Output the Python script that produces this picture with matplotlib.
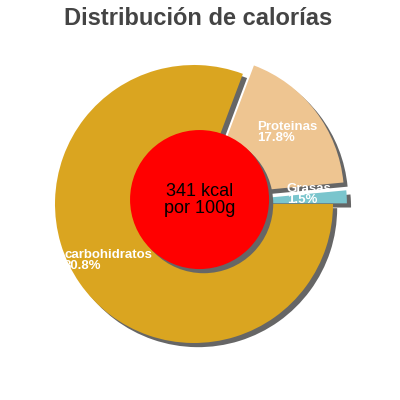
import matplotlib
matplotlib.use("Agg")
import matplotlib.pyplot as plt

# -----------------------------
# Datos
# -----------------------------
nombres = ["Grasas", "Proteinas", "carbohidratos"]
porcentajes = [1.5, 17.8, 80.8]
colores = ["#7AC5CD", "#EEC591", "#DAA520"]
separacion = [0.1, 0.1, 0.0]
texto_centro = "341 kcal\npor 100g"
titulo = "Distribución de calorías"

# posiciones de las etiquetas (en unidades del radio)
pos_etiquetas = [(0.669, 0.151), (0.453, 0.597), (-0.935, -0.324)]

plt.rcParams["font.family"] = ["Liberation Sans", "DejaVu Sans"]

fig = plt.figure(figsize=(4, 4), dpi=100)
ax = fig.add_axes([0, 0, 1, 1])
ax.set_xlim(-194 / 139, 206 / 139)
ax.set_ylim(-196 / 139, 204 / 139)
ax.set_aspect("equal")
ax.axis("off")

sombra = "#666666"
dx, dy = 0.03, -0.03

# sombra del gráfico
ax.pie(porcentajes, colors=[sombra] * len(porcentajes), explode=separacion,
       startangle=0, counterclock=True, center=(dx, dy), radius=1,
       wedgeprops={"linewidth": 0}, frame=True)
# gráfico principal
ax.pie(porcentajes, colors=colores, explode=separacion,
       startangle=0, counterclock=True, center=(0, 0), radius=1,
       wedgeprops={"linewidth": 0}, frame=True)

ax.set_xlim(-194 / 139, 206 / 139)
ax.set_ylim(-196 / 139, 204 / 139)
ax.axis("off")

# etiquetas
for nombre, pct, (x, y) in zip(nombres, porcentajes, pos_etiquetas):
    ax.text(x, y, f"{nombre}\n{pct}%", color="white", fontsize=9.5,
            fontweight="bold", ha="left", va="top", linespacing=0.9)

# círculo central
cx, cy, rc = 0.04, 0.032, 0.5
ax.add_patch(plt.Circle((cx + dx, cy + dy), rc, color=sombra, lw=0))
ax.add_patch(plt.Circle((cx, cy), rc, color="#FF0000", lw=0))
ax.text(cx, cy, texto_centro, ha="center", va="center", fontsize=13,
        color="black", linespacing=1.0)

fig.text(0.495, 1 - 25 / 400, titulo, ha="center", va="baseline",
         fontsize=17, fontweight="bold", color="#444444")

plt.savefig("out.png", dpi=100)
